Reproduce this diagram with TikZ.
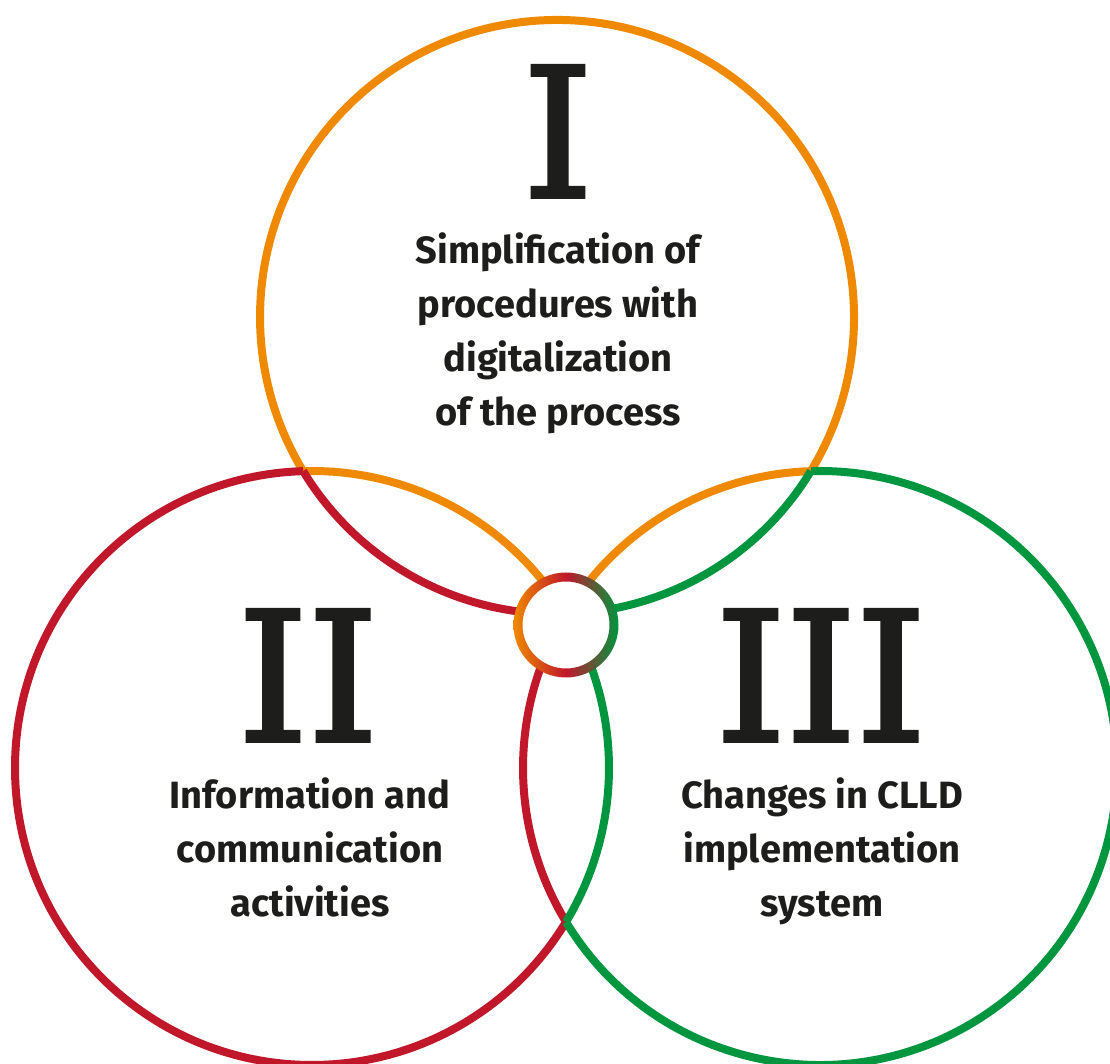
\documentclass[tikz,border=0pt]{standalone}
\usepackage{fontspec}
\setmainfont{Fira Sans}
\newfontfamily\numfont[FakeBold=2]{DejaVu Serif}
\definecolor{vorange}{RGB}{239,137,0}
\definecolor{vred}{RGB}{192,24,42}
\definecolor{vgreen}{RGB}{0,150,64}
\definecolor{ink}{RGB}{29,29,27}
% arc of radius 297 around a centre, between two angles
\newcommand\vennarc[4]{\draw[ring,#1] ([shift={(#3:297)}]#2) arc[start angle=#3, end angle=#4, radius=297];}
\begin{document}
\begin{tikzpicture}[x=1pt,y=1pt,
  ring/.style={line width=8pt},
  lbl/.style={font=\fontsize{38}{46}\selectfont\bfseries, text=ink, inner sep=0pt, anchor=base},
  num/.style={font={\numfont\fontsize{180}{180}\selectfont}, text=ink, inner sep=0pt, anchor=base}]
\useasboundingbox (0,0) rectangle (1110,1064);
% circle centres and the hub
\coordinate (O1) at (557,747);
\coordinate (O2) at (312,296);
\coordinate (O3) at (820,296);
\coordinate (hub) at (566,439);
% outline of region I alone
\vennarc{vorange}{O1}{-31.26}{211.26}
\vennarc{vorange}{O2}{31.21}{91.72}
\vennarc{vorange}{O3}{91.76}{148.79}
% outline of region II alone
\vennarc{vred}{O2}{91.72}{328.79}
\vennarc{vred}{O1}{211.26}{271.72}
\vennarc{vred}{O3}{148.79}{211.21}
% outline of region III alone
\vennarc{vgreen}{O3}{211.21}{451.76}
\vennarc{vgreen}{O1}{271.72}{328.74}
\vennarc{vgreen}{O2}{-31.21}{31.21}
% central ring with colour blend (middle colour set last)
\fill[white] (hub) circle (48);
\shade[even odd rule, left color=vorange, right color=vgreen, middle color=vred]
  (hub) circle (52.5) (hub) circle (43.5);
% numerals
\node[num] (n1) at (558,867) {I};
\node[num] (n2) at (308,323) {I\kern-1pt I};
\node[num] (n3) at (821,323) {I\kern-1pt I\kern-1pt I};
% labels
\node[lbl] (a1) at (558,800) {Simplification of};
\node[lbl] (a2) at (558,746) {procedures with};
\node[lbl] (a3) at (558,692) {digitalization};
\node[lbl] (a4) at (558,638) {of the process};
\node[lbl] (b1) at (310,255) {Information and};
\node[lbl] (b2) at (310,201) {communication};
\node[lbl] (b3) at (310,147) {activities};
\node[lbl] (c1) at (822,255) {Changes in CLLD};
\node[lbl] (c2) at (822,201) {implementation};
\node[lbl] (c3) at (822,147) {system};
\end{tikzpicture}
\end{document}
